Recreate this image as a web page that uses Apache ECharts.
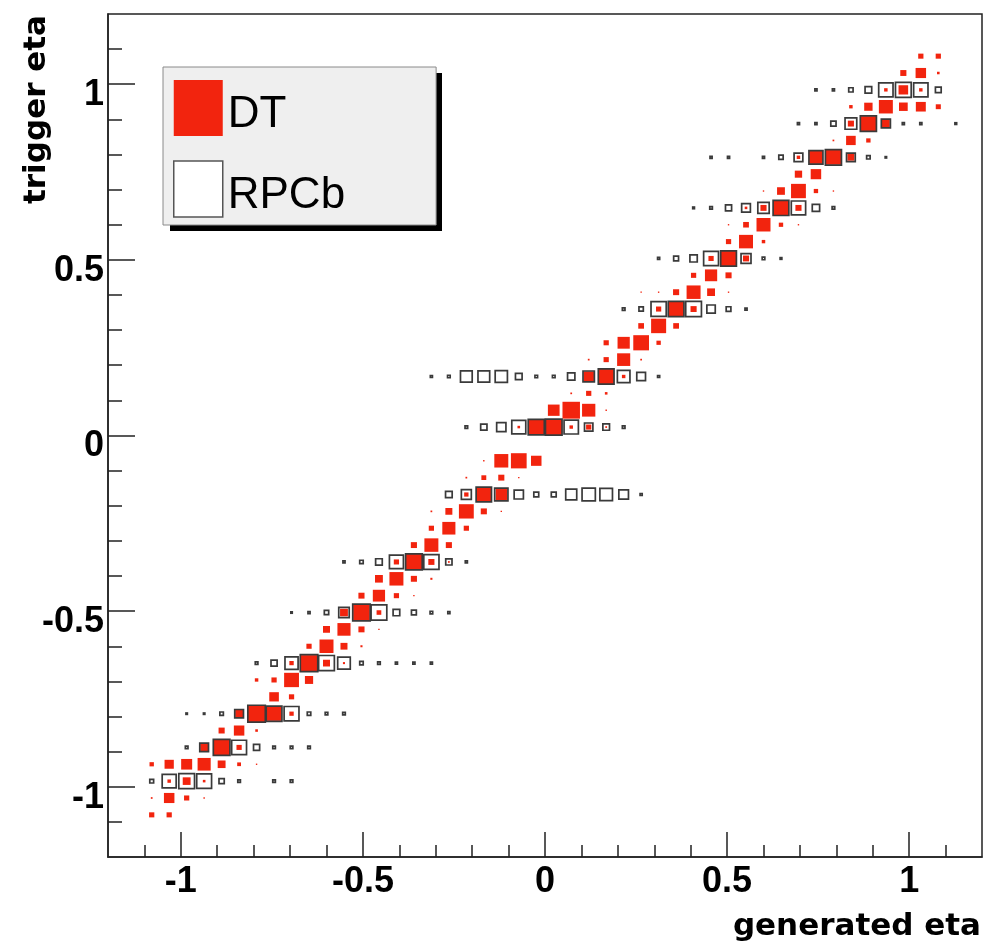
<!DOCTYPE html>
<html>
<head>
<meta charset="utf-8">
<script src="https://cdn.jsdelivr.net/npm/echarts@6/dist/echarts.min.js"></script>
<style>
html,body{margin:0;padding:0;background:#fff;}
#chart{width:997px;height:944px;}
</style>
</head>
<body>
<div id="chart"></div>
<script>
// 50 bins of width 0.048 on [-1.2, 1.2] (bin centres), used for both axes
const etaBins = [-1.176,-1.128,-1.080,-1.032,-0.984,-0.936,-0.888,-0.840,-0.792,-0.744,
  -0.696,-0.648,-0.600,-0.552,-0.504,-0.456,-0.408,-0.360,-0.312,-0.264,
  -0.216,-0.168,-0.120,-0.072,-0.024,0.024,0.072,0.120,0.168,0.216,
  0.264,0.312,0.360,0.408,0.456,0.504,0.552,0.600,0.648,0.696,
  0.744,0.792,0.840,0.888,0.936,0.984,1.032,1.080,1.128,1.176];
const BIN_WIDTH = 0.048;

// tick positions and labels
const majorTicks = [-1, -0.5, 0, 0.5, 1];
const minorTicks = [-1.1,-1.0,-0.9,-0.8,-0.7,-0.6,-0.5,-0.4,-0.3,-0.2,-0.1,0,
  0.1,0.2,0.3,0.4,0.5,0.6,0.7,0.8,0.9,1.0,1.1];

// DT cells: [generated-eta bin, trigger-eta bin, relative content (box side / bin width)]
const dtCells = [
  [2,2,.3],[3,2,.3],
  [2,3,.1],[3,3,.6],[4,3,.3],[5,3,.08],
  [3,4,.2],[4,4,.45],[5,4,.15],
  [2,5,.25],[3,5,.53],[4,5,.63],[5,5,.75],[6,5,.45],[7,5,.22],[8,5,.08],
  [5,6,.45],[6,6,.95],[7,6,.3],
  [6,7,.35],[7,7,.6],[8,7,.15],
  [7,8,.45],[8,8,1.0],[9,8,.85],[10,8,.25],
  [9,9,.55],[10,9,.3],
  [8,10,.2],[9,10,.3],[10,10,.85],[11,10,.47],
  [10,11,.25],[11,11,.95],[12,11,.4],[13,11,.12],
  [11,12,.3],[12,12,.8],[13,12,.4],[14,12,.12],
  [12,13,.4],[13,13,.75],[14,13,.35],[15,13,.08],
  [13,14,.45],[14,14,.95],[15,14,.27],
  [14,15,.35],[15,15,.7],[16,15,.3],[17,15,.08],
  [15,16,.45],[16,16,.8],[17,16,.35],[18,16,.12],
  [16,17,.3],[17,17,.95],[18,17,.35],[19,17,.1],
  [17,18,.35],[18,18,.8],[19,18,.35],
  [18,19,.3],[19,19,.75],[20,19,.3],
  [18,20,.1],[19,20,.4],[20,20,.85],[21,20,.35],[22,20,.08],
  [20,21,.25],[21,21,.85],[22,21,.65],
  [20,22,.1],[21,22,.28],[22,22,.35],[23,22,.08],
  [21,23,.08],[22,23,.8],[23,23,.9],[24,23,.6],
  [23,25,.15],[24,25,.92],[25,25,.95],[26,25,.2],[27,25,.3],[28,25,.1],
  [25,26,.67],[26,26,1.0],[27,26,.76],[28,26,.08],
  [26,27,.1],[27,27,.3],[28,27,.15],
  [27,28,.6],[28,28,.9],[29,28,.2],
  [27,29,.1],[28,29,.3],[29,29,.75],[30,29,.1],
  [28,30,.3],[29,30,.7],[30,30,.9],[31,30,.25],
  [30,31,.33],[31,31,.86],[32,31,.33],
  [31,32,.3],[32,32,.9],[33,32,.35],
  [30,33,.08],[31,33,.08],[32,33,.35],[33,33,.8],[34,33,.45],[35,33,.08],
  [33,34,.3],[34,34,.7],[35,34,.35],
  [34,35,.3],[35,35,.9],[36,35,.35],
  [35,36,.3],[36,36,.8],[37,36,.2],
  [35,37,.08],[36,37,.33],[37,37,.8],[38,37,.25],[39,37,.08],
  [36,38,.15],[37,38,.35],[38,38,.9],[39,38,.35],
  [37,39,.08],[38,39,.45],[39,39,.85],[40,39,.25],[41,39,.08],
  [39,40,.42],[40,40,.6],
  [39,41,.2],[40,41,.78],[41,41,.88],[42,41,.4],
  [41,42,.1],[42,42,.55],[43,42,.25],
  [42,43,.35],[43,43,.88],[44,43,.45],
  [42,44,.2],[43,44,.48],[44,44,.8],[45,44,.5],[46,44,.57],[47,44,.29],
  [44,45,.2],[45,45,.55],[46,45,.2],
  [45,46,.35],[46,46,.6],[47,46,.15],
  [46,47,.3],[47,47,.3]
];

// RPCb cells: [generated-eta bin, trigger-eta bin, relative content]
const rpcCells = [
  [2,4,.22],[3,4,.8],[4,4,.9],[5,4,.85],[6,4,.3],[7,4,.15],[9,4,.15],[10,4,.15],
  [4,6,.15],[5,6,.5],[6,6,.95],[7,6,.85],[8,6,.35],[9,6,.15],[10,6,.15],[11,6,.15],
  [4,8,.08],[5,8,.08],[6,8,.2],[7,8,.5],[8,8,1.0],[9,8,.9],[10,8,.85],[11,8,.2],[12,8,.15],[13,8,.15],
  [8,11,.15],[9,11,.35],[10,11,.75],[11,11,1.0],[12,11,.9],[13,11,.72],[14,11,.2],[15,11,.15],[16,11,.12],[17,11,.12],[18,11,.12],
  [10,14,.08],[11,14,.12],[12,14,.25],[13,14,.6],[14,14,1.0],[15,14,.9],[16,14,.38],[17,14,.28],[18,14,.15],[19,14,.12],
  [13,17,.12],[14,17,.2],[15,17,.38],[16,17,.8],[17,17,.95],[18,17,.87],[19,17,.36],[20,17,.12],
  [19,21,.38],[20,21,.57],[21,21,.88],[22,21,.76],[23,21,.53],[24,21,.28],[25,21,.28],[26,21,.63],[27,21,.76],[28,21,.72],[29,21,.55],[30,21,.12],
  [20,25,.15],[21,25,.36],[22,25,.53],[23,25,.8],[24,25,.92],[25,25,.95],[26,25,.82],[27,25,.48],[28,25,.38],[29,25,.15],
  [18,28,.12],[19,28,.15],[20,28,.67],[21,28,.67],[22,28,.7],[23,28,.38],[24,28,.15],[25,28,.15],[26,28,.42],[27,28,.65],[28,28,.9],[29,28,.72],[30,28,.5],[31,28,.12],
  [29,32,.15],[30,32,.25],[31,32,.87],[32,32,.9],[33,32,.9],[34,32,.48],[35,32,.27],[36,32,.12],
  [31,35,.12],[32,35,.28],[33,35,.42],[34,35,.85],[35,35,.9],[36,35,.57],[37,35,.15],[38,35,.1],
  [33,38,.1],[34,38,.15],[35,38,.35],[36,38,.5],[37,38,.65],[38,38,.9],[39,38,.82],[40,38,.42],[41,38,.15],
  [34,41,.12],[35,41,.12],[37,41,.12],[38,41,.25],[39,41,.5],[40,41,.8],[41,41,.92],[42,41,.5],[43,41,.2],[44,41,.08],
  [39,43,.12],[40,43,.12],[41,43,.3],[42,43,.67],[43,43,.92],[44,43,.52],[45,43,.12],[46,43,.12],[48,43,.1],
  [40,45,.12],[41,45,.12],[42,45,.25],[43,45,.38],[44,45,.82],[45,45,.9],[46,45,.82],[47,45,.33]
];

const DT_COLOR = '#f2240e';
const RPC_COLOR = '#3a3a3a';
const AXIS_COLOR = '#222';
const LABEL_FONT = 'Liberation Sans';
const TITLE_FONT = 'DejaVu Sans';

function toData(cells) {
  return cells.map(c => [etaBins[c[0]], etaBins[c[1]], c[2]]);
}

function boxRenderer(filled) {
  return function (params, api) {
    const x = api.value(0), y = api.value(1), v = api.value(2);
    const c = api.coord([x, y]);
    const s = api.size([BIN_WIDTH, BIN_WIDTH]);
    const w = s[0] * v, h = s[1] * v;
    return {
      type: 'rect',
      shape: { x: c[0] - w / 2, y: c[1] - h / 2, width: w, height: h },
      style: filled
        ? { fill: DT_COLOR, stroke: null }
        : { fill: 'none', stroke: RPC_COLOR, lineWidth: 1.7 }
    };
  };
}

const chart = echarts.init(document.getElementById('chart'), null, { renderer: 'canvas' });

const baseAxis = {
  type: 'value', min: -1.2, max: 1.2,
  splitLine: { show: false }
};
const labelStyle = {
  fontFamily: LABEL_FONT, fontWeight: 'bold', fontSize: 36, color: '#000'
};

chart.setOption({
  animation: false,
  backgroundColor: '#fff',
  grid: {
    left: 108, top: 14, width: 874, height: 843,
    show: true, borderColor: AXIS_COLOR, borderWidth: 1.5, backgroundColor: '#fff'
  },
  xAxis: [
    Object.assign({}, baseAxis, {
      position: 'bottom',
      axisLine: { show: true, onZero: false, lineStyle: { color: AXIS_COLOR, width: 1.5 } },
      axisTick: { show: true, inside: true, length: 12, customValues: minorTicks,
                  lineStyle: { color: AXIS_COLOR, width: 1.5 } },
      axisLabel: { show: false }
    }),
    Object.assign({}, baseAxis, {
      position: 'bottom',
      axisLine: { show: false, onZero: false },
      axisTick: { show: true, inside: true, length: 25, customValues: majorTicks,
                  lineStyle: { color: AXIS_COLOR, width: 1.5 } },
      axisLabel: Object.assign({ show: true, margin: 7, customValues: majorTicks,
                  formatter: v => String(v) }, labelStyle)
    })
  ],
  yAxis: [
    Object.assign({}, baseAxis, {
      position: 'left',
      axisLine: { show: true, onZero: false, lineStyle: { color: AXIS_COLOR, width: 1.5 } },
      axisTick: { show: true, inside: true, length: 14, customValues: minorTicks,
                  lineStyle: { color: AXIS_COLOR, width: 1.5 } },
      axisLabel: { show: false }
    }),
    Object.assign({}, baseAxis, {
      position: 'left',
      axisLine: { show: false, onZero: false },
      axisTick: { show: true, inside: true, length: 27, customValues: majorTicks,
                  lineStyle: { color: AXIS_COLOR, width: 1.5 } },
      axisLabel: Object.assign({ show: true, margin: 4, customValues: majorTicks,
                  verticalAlign: 'top', lineHeight: 22,
                  formatter: v => String(v) }, labelStyle)
    })
  ],
  legend: {
    left: 163, top: 67,
    z: 10,
    orient: 'vertical',
    selectedMode: false,
    itemWidth: 49, itemHeight: 56, itemGap: 23,
    padding: [12, 91, 7, 10],
    backgroundColor: '#efefef',
    borderColor: '#8a8a8a', borderWidth: 1,
    formatter: name => '{t|' + name + '}',
    textStyle: {
      fontFamily: LABEL_FONT, fontSize: 44, color: '#000',
      rich: { t: { fontFamily: LABEL_FONT, fontSize: 44, color: '#000',
                   lineHeight: 36, padding: [14, 0, 0, 0] } }
    },
    data: [
      { name: 'DT', icon: 'rect', itemStyle: { color: DT_COLOR, borderWidth: 0 } },
      { name: 'RPCb', icon: 'rect', itemStyle: { color: '#ffffff', borderColor: '#555', borderWidth: 1.5 } }
    ]
  },
  graphic: [
    {
      type: 'rect', z: 5, silent: true,
      shape: { x: 170, y: 73, width: 272, height: 158 },
      style: { fill: '#000' }
    },
    {
      type: 'text', x: 981, y: 927,
      style: { text: 'generated eta', align: 'right', verticalAlign: 'middle',
               font: 'bold 31px "' + TITLE_FONT + '"', fill: '#000' }
    },
    {
      type: 'text', x: 37, y: 15, rotation: Math.PI / 2,
      style: { text: 'trigger eta', align: 'right', verticalAlign: 'middle',
               font: 'bold 31px "' + TITLE_FONT + '"', fill: '#000' }
    }
  ],
  series: [
    {
      name: 'DT', type: 'custom', xAxisIndex: 0, yAxisIndex: 0,
      itemStyle: { color: DT_COLOR },
      renderItem: boxRenderer(true),
      encode: { x: 0, y: 1 },
      data: toData(dtCells)
    },
    {
      name: 'RPCb', type: 'custom', xAxisIndex: 0, yAxisIndex: 0,
      itemStyle: { color: '#ffffff', borderColor: RPC_COLOR, borderWidth: 1.5 },
      renderItem: boxRenderer(false),
      encode: { x: 0, y: 1 },
      data: toData(rpcCells)
    }
  ]
});
</script>
</body>
</html>
